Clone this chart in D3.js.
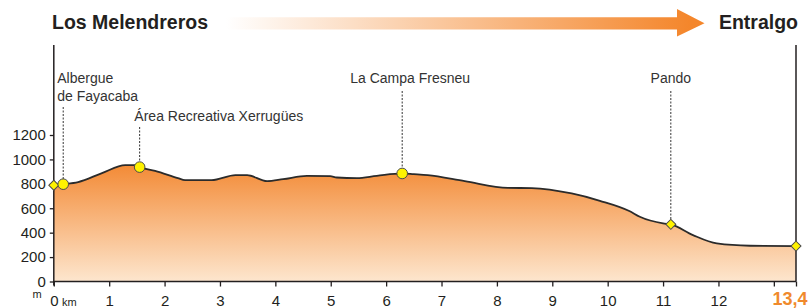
<!DOCTYPE html>
<html>
<head>
<meta charset="utf-8">
<script src="https://cdn.jsdelivr.net/npm/d3@7"></script>
<style>
  body { margin: 0; background: #fff; }
  svg { display: block; font-family: Arial, "Liberation Sans", sans-serif; }
</style>
</head>
<body>
<div id="chart"></div>
<script>
// profile, km / metres
const km   = [0, 0.17, 0.44, 0.87, 1.29, 1.47, 1.55, 1.83, 2.24, 2.37, 2.85, 3.28, 3.49, 3.85, 4.14, 4.57, 4.99, 5.11, 5.47, 5.83, 6.29, 6.5, 6.75, 7.42, 8.2, 8.63, 9.35, 9.86, 10.39, 10.58, 11.0, 11.14, 11.54, 11.97, 12.57, 13.4];
const elev = [789, 797, 814, 888, 953, 953, 937, 906, 847, 830, 830, 871, 871, 822, 838, 865, 863, 852, 847, 865, 885, 879, 871, 822, 767, 765, 721, 661, 577, 530, 476, 468, 380, 312, 293, 290];

// points of interest
const poiKm    = [0, 0.17, 1.55, 6.29, 11.14, 13.4];
const poiElev  = [789, 797, 937, 885, 468, 290];
const poiShape = ['diamond', 'circle', 'circle', 'circle', 'diamond', 'diamond'];
const poiName  = [[], ['Albergue', 'de Fayacaba'], ['Área Recreativa Xerrugües'], ['La Campa Fresneu'], ['Pando'], []];

const yTicks  = [0, 200, 400, 600, 800, 1000, 1200];
const xTicks  = [0, 1, 2, 3, 4, 5, 6, 7, 8, 9, 10, 11, 12, 13];
const xLabels = ['0', '1', '2', '3', '4', '5', '6', '7', '8', '9', '10', '11', '12', ''];
const startName = 'Los Melendreros';
const endName = 'Entralgo';
const totalLabel = '13,4';

const width = 810, height = 308;
const svg = d3.select('#chart').append('svg')
    .attr('width', width)
    .attr('height', height);

const x = d3.scaleLinear().domain([0, 13.4]).range([53.8, 796]);
const y = d3.scaleLinear().domain([0, 1200]).range([281.5, 135]);
const axisTop = 45;

const defs = svg.append('defs');
const fillGrad = defs.append('linearGradient')
    .attr('id', 'fillGrad')
    .attr('gradientUnits', 'userSpaceOnUse')
    .attr('x1', 0).attr('x2', 0)
    .attr('y1', y(960)).attr('y2', y(0));
fillGrad.append('stop').attr('offset', 0).attr('stop-color', '#f38a35');
fillGrad.append('stop').attr('offset', 1).attr('stop-color', '#fde6ce');

const arrowGrad = defs.append('linearGradient')
    .attr('id', 'arrowGrad')
    .attr('gradientUnits', 'userSpaceOnUse')
    .attr('x1', 226).attr('x2', 690)
    .attr('y1', 0).attr('y2', 0);
arrowGrad.append('stop').attr('offset', 0).attr('stop-color', '#ffffff');
arrowGrad.append('stop').attr('offset', 1).attr('stop-color', '#f4862b');

// titles and direction arrow
svg.append('text')
    .attr('x', 52).attr('y', 29)
    .attr('font-size', 19.5).attr('font-weight', 'bold').attr('fill', '#231f20')
    .text(startName);
svg.append('text')
    .attr('x', 798).attr('y', 29)
    .attr('text-anchor', 'end')
    .attr('font-size', 19.5).attr('font-weight', 'bold').attr('fill', '#231f20')
    .text(endName);
svg.append('path')
    .attr('d', 'M226,17.2 L677,17.2 L677,9 L704.5,23.2 L677,36.5 L677,29.5 L226,29.5 Z')
    .attr('fill', 'url(#arrowGrad)');

const data = km.map((k, i) => ({km: k, elev: elev[i]}));

// area + outline
svg.append('path')
    .datum(data)
    .attr('fill', 'url(#fillGrad)')
    .attr('d', d3.area()
        .x(d => x(d.km))
        .y0(y(0))
        .y1(d => y(d.elev))
        .curve(d3.curveMonotoneX));

svg.append('path')
    .datum(data)
    .attr('fill', 'none')
    .attr('stroke', '#2b2b2b')
    .attr('stroke-width', 1.8)
    .attr('d', d3.line()
        .x(d => x(d.km))
        .y(d => y(d.elev))
        .curve(d3.curveMonotoneX));

// axes
const yAxis = svg.append('g')
    .attr('transform', 'translate(' + x(0) + ',0)')
    .call(d3.axisLeft(y).tickValues(yTicks).tickSize(4).tickPadding(4).tickFormat(d3.format('d')));
yAxis.select('.domain').remove();
yAxis.append('line')
    .attr('x1', 0).attr('x2', 0)
    .attr('y1', axisTop).attr('y2', y(0) + 4)
    .attr('stroke', '#231f20').attr('stroke-width', 1.5);
yAxis.selectAll('.tick line').attr('stroke', '#231f20').attr('stroke-width', 1.3);
yAxis.selectAll('.tick text').attr('font-size', 15).attr('fill', '#231f20')
    .attr('font-family', 'Arial, "Liberation Sans", sans-serif');

const xAxis = svg.append('g')
    .attr('transform', 'translate(0,' + y(0) + ')')
    .call(d3.axisBottom(x).tickValues(xTicks.concat([13.4])).tickSize(5).tickPadding(9)
        .tickFormat((d, i) => i < xLabels.length ? xLabels[i] : ''));
xAxis.select('.domain').remove();
xAxis.append('line')
    .attr('x1', x(0)).attr('x2', x(13.4))
    .attr('y1', 0).attr('y2', 0)
    .attr('stroke', '#231f20').attr('stroke-width', 1.5);
xAxis.selectAll('.tick line').attr('stroke', '#231f20').attr('stroke-width', 1.3);
xAxis.selectAll('.tick text').attr('font-size', 15).attr('fill', '#231f20')
    .attr('font-family', 'Arial, "Liberation Sans", sans-serif');

// right border
svg.append('line')
    .attr('x1', x(13.4)).attr('x2', x(13.4))
    .attr('y1', axisTop).attr('y2', y(0))
    .attr('stroke', '#231f20').attr('stroke-width', 1.5);

// units
svg.append('text')
    .attr('x', 37).attr('y', 298)
    .attr('text-anchor', 'middle')
    .attr('font-size', 11).attr('fill', '#231f20')
    .text('m');
svg.append('text')
    .attr('x', 62).attr('y', 306)
    .attr('font-size', 11).attr('fill', '#231f20')
    .text('km');
svg.append('text')
    .attr('x', 790).attr('y', 305)
    .attr('text-anchor', 'middle')
    .attr('font-size', 18).attr('font-weight', 'bold').attr('fill', '#f08a2c')
    .text(totalLabel);

// labels for points of interest: [text x offset, anchor, first baseline, dashed line top]
const labelLayout = {
    1: [-6, 'start', 83, 107],
    2: [-5.3, 'start', 121, 127],
    3: [-52, 'start', 83, 91],
    4: [0, 'middle', 83, 91]
};

poiKm.forEach((k, i) => {
    const lay = labelLayout[i];
    if (!lay) return;
    const px = x(k), py = y(poiElev[i]);
    svg.append('line')
        .attr('x1', px).attr('x2', px)
        .attr('y1', lay[3]).attr('y2', py - 5)
        .attr('stroke', '#333').attr('stroke-width', 1)
        .attr('stroke-dasharray', '2,1.5');
    const t = svg.append('text')
        .attr('font-size', 14).attr('fill', '#333')
        .attr('text-anchor', lay[1]);
    poiName[i].forEach((line, j) => {
        t.append('tspan')
            .attr('x', px + lay[0])
            .attr('y', lay[2] + j * 18)
            .text(line);
    });
});

// markers
poiKm.forEach((k, i) => {
    const px = x(k), py = y(poiElev[i]);
    if (poiShape[i] === 'circle') {
        svg.append('circle')
            .attr('cx', px).attr('cy', py).attr('r', 5.3)
            .attr('fill', '#fff200').attr('stroke', '#4a4a4a').attr('stroke-width', 1);
    } else {
        svg.append('path')
            .attr('d', d3.symbol().type(d3.symbolSquare).size(50)())
            .attr('transform', 'translate(' + px + ',' + py + ') rotate(45)')
            .attr('fill', '#fff200').attr('stroke', '#4a4a4a').attr('stroke-width', 1);
    }
});
</script>
</body>
</html>
